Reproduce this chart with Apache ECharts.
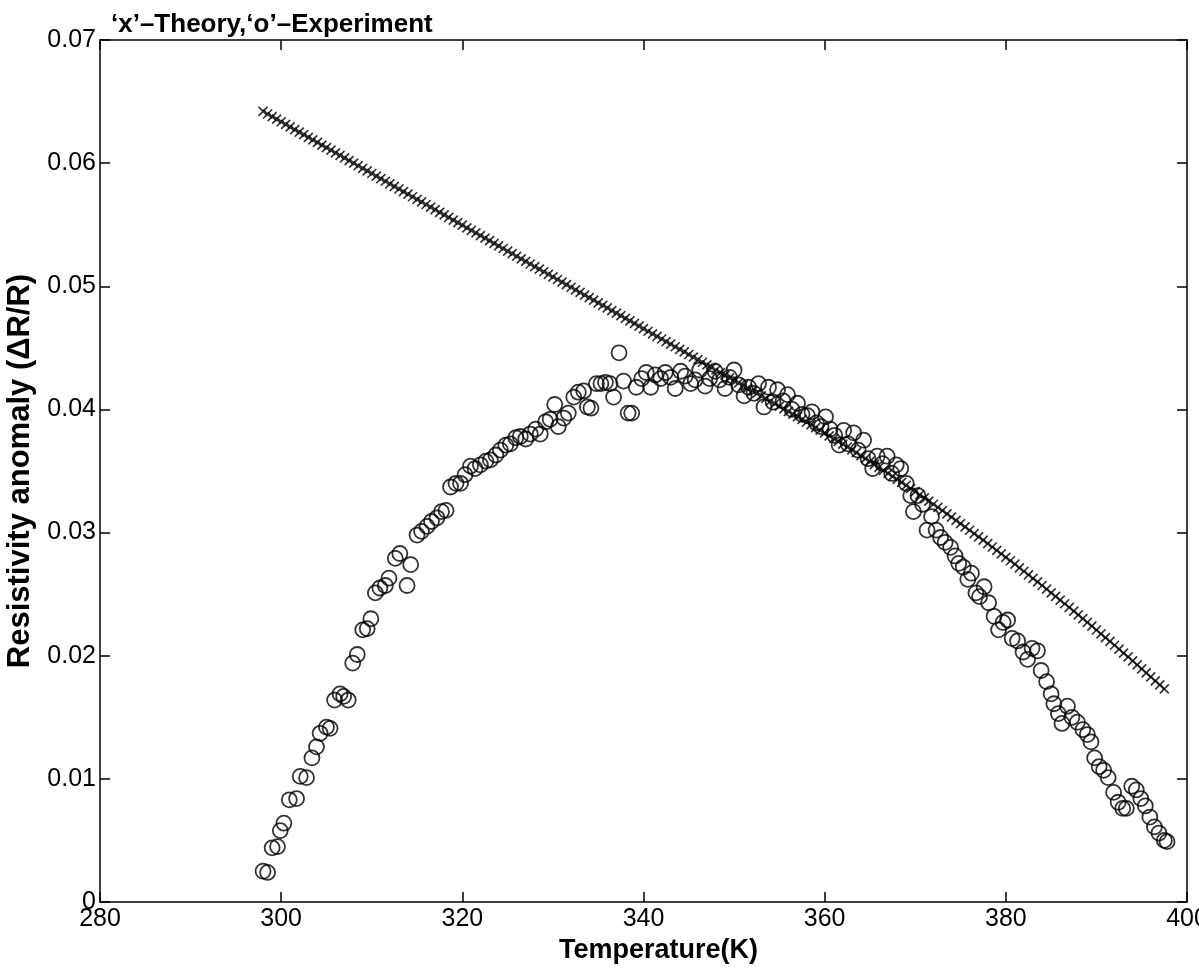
<!DOCTYPE html>
<html>
<head>
<meta charset="utf-8">
<script src="https://cdn.jsdelivr.net/npm/echarts@6/dist/echarts.min.js"></script>
<style>html,body{margin:0;padding:0;background:#fff}#chart{width:1199px;height:972px}</style>
</head>
<body>
<div id="chart"></div>
<script>
const titleText = "\u2018x\u2019\u2013Theory,\u2018o\u2019\u2013Experiment";
const xAxisName = "Temperature(K)";
const yAxisName = "Resistivity anomaly (\u0394R/R)";

const theoryTemp = [
298.0,298.5,299.0,299.5,300.0,300.5,301.0,301.5,302.0,302.5,303.0,303.5,304.0,304.5,305.0,305.5,306.0,306.5,307.0,307.5,
308.0,308.5,309.0,309.5,310.0,310.5,311.0,311.5,312.0,312.5,313.0,313.5,314.0,314.5,315.0,315.5,316.0,316.5,317.0,317.5,
318.0,318.5,319.0,319.5,320.0,320.5,321.0,321.5,322.0,322.5,323.0,323.5,324.0,324.5,325.0,325.5,326.0,326.5,327.0,327.5,
328.0,328.5,329.0,329.5,330.0,330.5,331.0,331.5,332.0,332.5,333.0,333.5,334.0,334.5,335.0,335.5,336.0,336.5,337.0,337.5,
338.0,338.5,339.0,339.5,340.0,340.5,341.0,341.5,342.0,342.5,343.0,343.5,344.0,344.5,345.0,345.5,346.0,346.5,347.0,347.5,
348.0,348.5,349.0,349.5,350.0,350.5,351.0,351.5,352.0,352.5,353.0,353.5,354.0,354.5,355.0,355.5,356.0,356.5,357.0,357.5,
358.0,358.5,359.0,359.5,360.0,360.5,361.0,361.5,362.0,362.5,363.0,363.5,364.0,364.5,365.0,365.5,366.0,366.5,367.0,367.5,
368.0,368.5,369.0,369.5,370.0,370.5,371.0,371.5,372.0,372.5,373.0,373.5,374.0,374.5,375.0,375.5,376.0,376.5,377.0,377.5,
378.0,378.5,379.0,379.5,380.0,380.5,381.0,381.5,382.0,382.5,383.0,383.5,384.0,384.5,385.0,385.5,386.0,386.5,387.0,387.5,
388.0,388.5,389.0,389.5,390.0,390.5,391.0,391.5,392.0,392.5,393.0,393.5,394.0,394.5,395.0,395.5,396.0,396.5,397.0,397.5
];
const theoryValue = [
0.06420,0.06399,0.06378,0.06357,0.06336,0.06315,0.06294,0.06273,0.06252,0.06231,0.06210,0.06189,0.06168,0.06147,0.06126,0.06105,0.06084,0.06063,0.06042,0.06021,
0.06000,0.05979,0.05958,0.05937,0.05916,0.05895,0.05874,0.05853,0.05832,0.05811,0.05790,0.05769,0.05748,0.05727,0.05706,0.05685,0.05664,0.05643,0.05622,0.05601,
0.05580,0.05559,0.05538,0.05517,0.05496,0.05475,0.05454,0.05433,0.05412,0.05391,0.05370,0.05349,0.05328,0.05307,0.05286,0.05265,0.05244,0.05223,0.05202,0.05181,
0.05160,0.05139,0.05118,0.05097,0.05076,0.05055,0.05034,0.05013,0.04992,0.04971,0.04950,0.04929,0.04908,0.04887,0.04866,0.04845,0.04824,0.04803,0.04782,0.04761,
0.04740,0.04719,0.04698,0.04677,0.04656,0.04635,0.04614,0.04593,0.04572,0.04551,0.04530,0.04509,0.04488,0.04467,0.04446,0.04425,0.04404,0.04383,0.04362,0.04341,
0.04320,0.04299,0.04278,0.04257,0.04236,0.04215,0.04194,0.04173,0.04152,0.04131,0.04110,0.04089,0.04068,0.04047,0.04026,0.04005,0.03984,0.03962,0.03941,0.03919,
0.03897,0.03876,0.03853,0.03831,0.03809,0.03786,0.03764,0.03741,0.03718,0.03695,0.03672,0.03649,0.03625,0.03601,0.03578,0.03554,0.03530,0.03506,0.03481,0.03457,
0.03432,0.03407,0.03383,0.03358,0.03332,0.03307,0.03282,0.03256,0.03230,0.03204,0.03178,0.03152,0.03126,0.03099,0.03073,0.03046,0.03019,0.02992,0.02965,0.02938,
0.02910,0.02883,0.02855,0.02827,0.02799,0.02771,0.02743,0.02714,0.02686,0.02657,0.02628,0.02599,0.02570,0.02541,0.02511,0.02482,0.02452,0.02422,0.02392,0.02362,
0.02332,0.02301,0.02271,0.02240,0.02209,0.02178,0.02147,0.02116,0.02085,0.02053,0.02021,0.01990,0.01958,0.01925,0.01893,0.01861,0.01828,0.01796,0.01763,0.01730
];

const expTemp = [
298.0,298.5,299.0,299.6,299.9,300.3,300.9,301.7,302.1,302.8,303.4,303.9,304.3,305.0,305.4,305.9,306.5,306.9,307.4,307.9,
308.4,309.0,309.5,309.9,310.4,310.9,311.5,311.9,312.6,313.1,313.9,314.3,315.0,315.5,316.1,316.6,317.2,317.7,318.2,318.7,
319.3,319.8,320.3,320.9,321.4,322.0,322.6,323.1,323.7,324.2,324.8,325.3,325.9,326.4,327.0,327.5,328.1,328.6,329.2,329.7,
330.2,330.6,331.2,331.7,332.3,332.8,333.4,333.8,334.2,334.8,335.3,335.8,336.3,336.7,337.3,337.8,338.3,338.7,339.2,339.8,
340.3,340.8,341.3,341.9,342.4,343.0,343.5,344.1,344.6,345.2,345.7,346.2,346.8,347.3,347.9,348.4,349.0,349.5,350.0,350.5,
351.1,351.6,352.2,352.7,353.3,353.8,354.3,354.8,355.4,355.9,356.4,357.0,357.5,358.1,358.6,359.1,359.6,360.1,360.6,361.1,
361.6,362.1,362.6,363.2,363.7,364.3,364.8,365.3,365.8,366.4,366.9,367.4,367.9,368.4,369.0,369.5,369.8,370.3,370.8,371.3,
371.8,372.3,372.8,373.3,373.9,374.4,374.8,375.3,375.8,376.2,376.7,377.1,377.6,378.1,378.7,379.2,379.7,380.2,380.7,381.3,
381.9,382.4,382.9,383.5,383.9,384.5,385.0,385.3,385.8,386.2,386.8,387.3,387.9,388.5,389.0,389.4,389.8,390.3,390.8,391.3,
391.9,392.4,392.9,393.3,393.9,394.4,394.9,395.4,395.9,396.4,396.9,397.5,397.8
];
const expValue = [
0.0025,0.0024,0.0044,0.0045,0.0058,0.0064,0.0083,0.0084,0.0102,0.0101,0.0117,0.0126,0.0137,0.0142,0.0141,0.0164,0.0169,0.0167,0.0164,0.0194,
0.0201,0.0221,0.0222,0.0230,0.0251,0.0255,0.0257,0.0263,0.0279,0.0283,0.0257,0.0274,0.0298,0.0301,0.0305,0.0309,0.0312,0.0317,0.0318,0.0337,
0.0340,0.0340,0.0347,0.0354,0.0352,0.0355,0.0358,0.0359,0.0363,0.0367,0.0371,0.0372,0.0377,0.0378,0.0376,0.0380,0.0384,0.0380,0.0390,0.0392,
0.0404,0.0386,0.0393,0.0397,0.0410,0.0414,0.0415,0.0402,0.0401,0.0421,0.0421,0.0422,0.0421,0.0410,0.0446,0.0423,0.0397,0.0397,0.0418,0.0425,
0.0430,0.0418,0.0428,0.0425,0.0430,0.0426,0.0417,0.0431,0.0427,0.0421,0.0424,0.0432,0.0419,0.0425,0.0431,0.0424,0.0417,0.0426,0.0432,0.0420,
0.0411,0.0418,0.0413,0.0421,0.0402,0.0418,0.0406,0.0416,0.0407,0.0412,0.0400,0.0405,0.0396,0.0395,0.0398,0.0389,0.0386,0.0394,0.0384,0.0379,
0.0371,0.0383,0.0372,0.0381,0.0367,0.0375,0.0360,0.0352,0.0362,0.0356,0.0362,0.0348,0.0355,0.0352,0.0340,0.0330,0.0317,0.0330,0.0323,0.0302,
0.0313,0.0302,0.0296,0.0292,0.0288,0.0281,0.0275,0.0272,0.0262,0.0267,0.0251,0.0248,0.0256,0.0243,0.0232,0.0221,0.0227,0.0229,0.0214,0.0212,
0.0203,0.0197,0.0206,0.0204,0.0188,0.0179,0.0169,0.0161,0.0153,0.0145,0.0159,0.0150,0.0146,0.0140,0.0136,0.0130,0.0117,0.0110,0.0107,0.0101,
0.0089,0.0081,0.0076,0.0076,0.0094,0.0091,0.0084,0.0078,0.0069,0.0061,0.0056,0.0050,0.0049
];

const xMin = 280, xMax = 400, xStep = 20;
const yMin = 0, yMax = 0.07, yStep = 0.01;

const theoryData = theoryTemp.map((t, i) => [t, theoryValue[i]]);
const expData = expTemp.map((t, i) => [t, expValue[i]]);

const FONT = "'Liberation Sans', Arial, Helvetica, sans-serif";
const chart = echarts.init(document.getElementById('chart'), null, {renderer: 'canvas'});

const axisLine = {show: true, onZero: false, lineStyle: {color: '#000', width: 1.5}};
const axisTick = {show: true, inside: true, length: 10, lineStyle: {color: '#000', width: 1.5}};

chart.setOption({
  animation: false,
  backgroundColor: '#fff',
  grid: {left: 100, right: 12, top: 40, bottom: 70, containLabel: false, outerBoundsMode: 'none'},
  graphic: [{
    type: 'text', left: 111, top: 12,
    style: {text: titleText, font: "bold 26px " + FONT, fill: '#000'}
  }],
  xAxis: [{
    type: 'value', min: xMin, max: xMax, interval: xStep, position: 'bottom',
    axisLine: axisLine, axisTick: axisTick, splitLine: {show: false},
    axisLabel: {color: '#000', fontSize: 25, fontFamily: FONT, margin: 5, showMaxLabel: true, showMinLabel: true, hideOverlap: false},
    name: xAxisName, nameLocation: 'middle', nameGap: 34,
    nameTextStyle: {color: '#000', fontSize: 27, fontWeight: 'bold', fontFamily: FONT, verticalAlign: 'top', padding: [0, 0, 0, 30]}
  }, {
    type: 'value', min: xMin, max: xMax, interval: xStep, position: 'top',
    axisLine: axisLine, axisTick: axisTick, splitLine: {show: false}, axisLabel: {show: false}
  }],
  yAxis: [{
    type: 'value', min: yMin, max: yMax, interval: yStep, position: 'left',
    axisLine: axisLine, axisTick: axisTick, splitLine: {show: false},
    axisLabel: {color: '#000', fontSize: 25, fontFamily: FONT, margin: 4,
      formatter: v => v === 0 ? '0' : v.toFixed(2), showMaxLabel: true, hideOverlap: false},
    name: yAxisName, nameLocation: 'middle', nameGap: 48, nameRotate: 90,
    nameTextStyle: {color: '#000', fontSize: 31, fontWeight: 'bold', fontFamily: FONT}
  }, {
    type: 'value', min: yMin, max: yMax, interval: yStep, position: 'right',
    axisLine: axisLine, axisTick: axisTick, splitLine: {show: false}, axisLabel: {show: false}
  }],
  series: [{
    name: 'Theory', type: 'scatter', xAxisIndex: 0, yAxisIndex: 0,
    data: theoryData,
    symbol: 'path://M0,0L10,10M10,0L0,10', symbolSize: 9,
    itemStyle: {color: 'rgba(0,0,0,0)', borderColor: '#000', borderWidth: 1.7},
    silent: true
  }, {
    name: 'Experiment', type: 'scatter', xAxisIndex: 0, yAxisIndex: 0,
    data: expData,
    symbol: 'circle', symbolSize: 15,
    itemStyle: {color: 'rgba(0,0,0,0)', borderColor: '#000', borderWidth: 1.8},
    silent: true
  }]
});
</script>
</body>
</html>
